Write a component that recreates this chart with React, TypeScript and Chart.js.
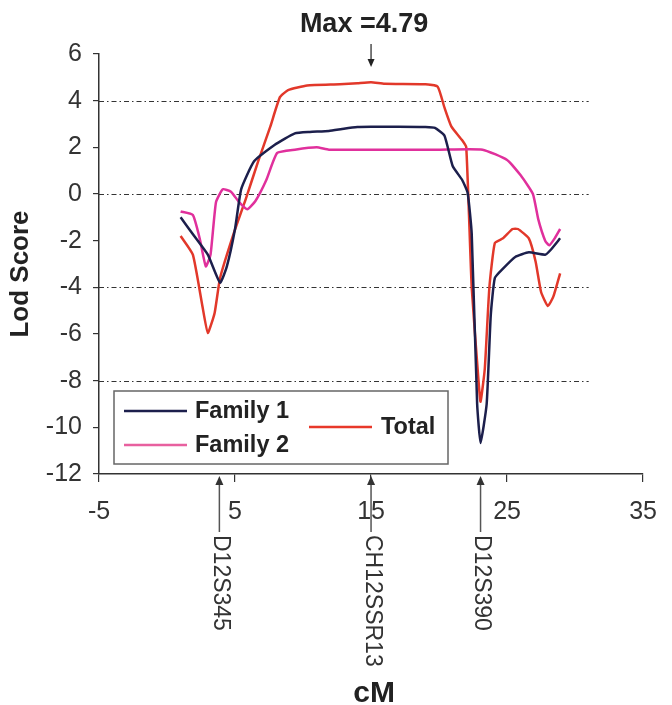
import { useEffect, useRef } from "react";
import { Chart, registerables } from "chart.js";
Chart.register(...registerables);

const family1X = [1.0, 2.0, 3.0, 3.9, 4.4, 5.0, 5.45, 6.4, 7.9, 9.4, 10.5, 11.9, 13.0, 14.0, 15.0, 17.0, 19.0, 19.7, 20.4, 21.0, 21.7, 22.1, 22.4, 22.8, 23.05, 23.5, 23.8, 24.1, 24.7, 25.6, 26.6, 27.8, 28.2, 28.9];
const family1Y = [-1.0, -1.8, -2.6, -3.8, -3.1, -1.5, 0.2, 1.4, 2.1, 2.6, 2.66, 2.7, 2.8, 2.87, 2.88, 2.88, 2.87, 2.83, 2.5, 1.2, 0.6, 0.05, -1.7, -9.0, -10.67, -9.0, -5.2, -3.6, -3.2, -2.7, -2.5, -2.6, -2.4, -1.9];

const family2X = [1.0, 1.9, 2.4, 2.85, 3.2, 3.6, 4.1, 4.7, 5.3, 5.9, 6.5, 7.3, 8.1, 9.4, 11.0, 11.9, 15.0, 20.0, 23.2, 25.0, 26.0, 26.9, 27.3, 27.8, 28.1, 28.5, 28.9];
const family2Y = [-0.75, -0.9, -1.9, -3.1, -2.6, -0.35, 0.2, 0.1, -0.35, -0.65, -0.3, 0.6, 1.76, 1.9, 2.0, 1.9, 1.9, 1.9, 1.9, 1.46, 0.8, 0.0, -1.1, -2.0, -2.2, -1.9, -1.5];

const totalX = [1.0, 1.9, 2.6, 3.0, 3.5, 3.9, 4.9, 5.8, 6.7, 7.6, 8.3, 8.9, 10.3, 12.7, 14.0, 15.0, 16.0, 19.0, 19.9, 20.4, 20.9, 21.7, 22.0, 22.4, 22.9, 23.05, 23.36, 23.7, 24.1, 24.7, 25.4, 25.8, 26.6, 27.1, 27.5, 28.0, 28.4, 28.9];
const totalY = [-1.8, -2.6, -4.8, -5.95, -5.1, -3.6, -1.7, -0.2, 1.4, 2.9, 4.15, 4.45, 4.65, 4.7, 4.75, 4.79, 4.72, 4.7, 4.6, 3.7, 2.9, 2.3, 2.0, -4.0, -8.0, -8.9, -7.5, -4.0, -2.1, -1.9, -1.5, -1.5, -1.9, -2.9, -4.2, -4.8, -4.4, -3.4];

const seriesNames = ["Family 1", "Family 2", "Total"];
const seriesColors = ["#1c1f4c", "#e0309c", "#e2382a"];
const legendColors = ["#1c1f4c", "#e8609f", "#e8382a"];

const xTicks = [-5, 5, 15, 25, 35];
const yTicks = [-12, -10, -8, -6, -4, -2, 0, 2, 4, 6];
const gridValues = [4, 0, -4, -8];
const gridEnd = 31;

const markerPositions = [3.85, 15.0, 23.05];
const markerLabels = ["D12S345", "CH12SSR13", "D12S390"];

const maxLabel = "Max =4.79";
const maxPosition = 15.0;
const maxValue = 4.79;

const xTitle = "cM";
const yTitle = "Lod Score";

const FONT = "'Liberation Sans', Arial, sans-serif";

function toPoints(xs: number[], ys: number[]) {
  return xs.map((x, i) => ({ x, y: ys[i] }));
}

export default function App() {
  const ref = useRef<HTMLCanvasElement | null>(null);

  useEffect(() => {
    if (!ref.current) return;

    const overlay = {
      id: "overlay",
      beforeDatasetsDraw(chart: any) {
        const { ctx } = chart;
        const xs = chart.scales.x;
        const ys = chart.scales.y;
        ctx.save();
        ctx.strokeStyle = "#333";
        ctx.lineWidth = 1;
        ctx.setLineDash([5, 3, 1.5, 3]);
        for (const g of gridValues) {
          const y = Math.round(ys.getPixelForValue(g)) + 0.5;
          ctx.beginPath();
          ctx.moveTo(xs.left, y);
          ctx.lineTo(xs.getPixelForValue(gridEnd), y);
          ctx.stroke();
        }
        ctx.restore();
      },
      afterDraw(chart: any) {
        const { ctx } = chart;
        const xs = chart.scales.x;
        const ys = chart.scales.y;
        const area = chart.chartArea;
        ctx.save();

        // Legend box
        const bx = 114, by = 391, bw = 334, bh = 73;
        ctx.fillStyle = "#fff";
        ctx.fillRect(bx, by, bw, bh);
        ctx.strokeStyle = "#666";
        ctx.lineWidth = 1.5;
        ctx.strokeRect(bx, by, bw, bh);
        const items = [
          { lx: 124, ly: 411, tx: 195 },
          { lx: 124, ly: 445, tx: 195 },
          { lx: 309, ly: 427, tx: 381 },
        ];
        ctx.font = `bold 23.5px ${FONT}`;
        ctx.textBaseline = "middle";
        ctx.textAlign = "left";
        items.forEach((it, i) => {
          ctx.strokeStyle = legendColors[i];
          ctx.lineWidth = 2.5;
          ctx.beginPath();
          ctx.moveTo(it.lx, it.ly);
          ctx.lineTo(it.lx + 63, it.ly);
          ctx.stroke();
          ctx.fillStyle = "#222";
          ctx.fillText(seriesNames[i], it.tx, it.ly + 1);
        });

        // Marker arrows and labels
        markerPositions.forEach((m, i) => {
          const x = xs.getPixelForValue(m);
          const top = area.bottom + 2;
          ctx.strokeStyle = "#555";
          ctx.fillStyle = "#333";
          ctx.lineWidth = 1.5;
          ctx.beginPath();
          ctx.moveTo(x, top + 6);
          ctx.lineTo(x, area.bottom + 58);
          ctx.stroke();
          ctx.beginPath();
          ctx.moveTo(x, top);
          ctx.lineTo(x - 4, top + 9);
          ctx.lineTo(x + 4, top + 9);
          ctx.closePath();
          ctx.fill();
          ctx.save();
          ctx.translate(x + 1, area.bottom + 61);
          ctx.rotate(Math.PI / 2);
          ctx.font = `23px ${FONT}`;
          ctx.textAlign = "left";
          ctx.textBaseline = "middle";
          ctx.fillStyle = "#333";
          ctx.fillText(markerLabels[i], 0, 0);
          ctx.restore();
        });

        // Max annotation
        const mx = xs.getPixelForValue(maxPosition);
        ctx.font = `bold 27px ${FONT}`;
        ctx.textAlign = "center";
        ctx.textBaseline = "middle";
        ctx.fillStyle = "#222";
        ctx.fillText(maxLabel, mx - 7, 25);
        ctx.strokeStyle = "#222";
        ctx.lineWidth = 1.2;
        ctx.beginPath();
        ctx.moveTo(mx, 44);
        ctx.lineTo(mx, 62);
        ctx.stroke();
        ctx.beginPath();
        ctx.moveTo(mx, 67);
        ctx.lineTo(mx - 3.5, 59);
        ctx.lineTo(mx + 3.5, 59);
        ctx.closePath();
        ctx.fill();

        // Axis titles
        ctx.font = `bold 30px ${FONT}`;
        ctx.fillStyle = "#222";
        ctx.fillText(xTitle, xs.getPixelForValue(15) + 3, 694);
        ctx.save();
        ctx.translate(21, 274);
        ctx.rotate(-Math.PI / 2);
        ctx.font = `bold 26px ${FONT}`;
        ctx.fillText(yTitle, 0, 0);
        ctx.restore();

        ctx.restore();
      },
    };

    const chart = new Chart(ref.current, {
      type: "scatter",
      data: {
        datasets: [
          { label: seriesNames[0], data: toPoints(family1X, family1Y) },
          { label: seriesNames[1], data: toPoints(family2X, family2Y) },
          { label: seriesNames[2], data: toPoints(totalX, totalY) },
        ].map((d, i) => ({
          ...d,
          showLine: true,
          borderColor: seriesColors[i],
          backgroundColor: seriesColors[i],
          borderWidth: 2.5,
          pointRadius: 0,
          tension: 0.15,
          order: i === 2 ? 2 : i === 0 ? 0 : 1,
        })),
      },
      options: {
        animation: false,
        responsive: false,
        maintainAspectRatio: false,
        layout: { padding: { left: 0, top: 54, right: 14, bottom: 0 } },
        plugins: { legend: { display: false }, tooltip: { enabled: false } },
        scales: {
          x: {
            type: "linear",
            min: -5,
            max: 35,
            afterFit: (s: any) => {
              s.height = 231;
            },
            afterBuildTicks: (s: any) => {
              s.ticks = xTicks.map((v) => ({ value: v }));
            },
            grid: { display: true, drawOnChartArea: false, drawTicks: true, tickLength: 8, color: "#333", lineWidth: 1.2 },
            border: { display: true, color: "#333", width: 1.5 },
            ticks: { color: "#333", font: { family: FONT, size: 25 }, padding: 15, maxRotation: 0 },
          },
          y: {
            type: "linear",
            min: -12,
            max: 6,
            afterFit: (s: any) => {
              s.width = 99;
            },
            afterBuildTicks: (s: any) => {
              s.ticks = yTicks.map((v) => ({ value: v }));
            },
            grid: { display: true, drawOnChartArea: false, drawTicks: true, tickLength: 6, color: "#333", lineWidth: 1.2 },
            border: { display: true, color: "#333", width: 1.5 },
            ticks: { color: "#333", font: { family: FONT, size: 25 }, padding: 11 },
          },
        },
      },
      plugins: [overlay],
    } as any);

    return () => chart.destroy();
  }, []);

  return (
    <div style={{ position: "absolute", left: 0, top: 0, width: 672, height: 705, background: "#fff" }}>
      <canvas ref={ref} width={672} height={705} style={{ width: 672, height: 705 }} />
    </div>
  );
}
